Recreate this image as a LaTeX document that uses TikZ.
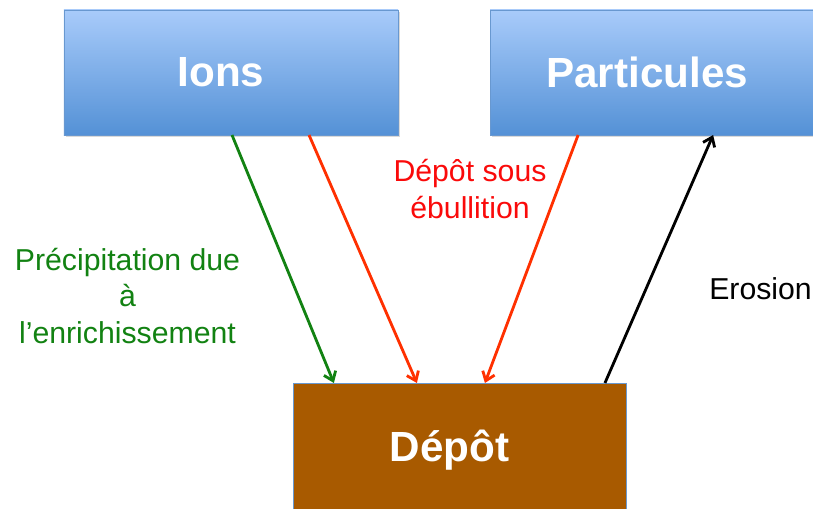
\documentclass[tikz,border=0pt]{standalone}
\usepackage{fontspec}
\setmainfont{Liberation Sans}
\usetikzlibrary{arrows.meta, positioning, shadows}

\definecolor{boxtop}{RGB}{168,203,250}
\definecolor{boxbot}{RGB}{84,145,214}
\definecolor{boxline}{RGB}{104,152,208}
\definecolor{depotfill}{RGB}{168,90,0}
\definecolor{precgreen}{RGB}{18,130,18}
\definecolor{ebulred}{RGB}{255,48,0}
\definecolor{ebultext}{RGB}{250,10,10}

% box titles sit a little left of centre
\newcommand{\boxtitle}[1]{\hspace*{-0.5cm}#1}

\begin{document}
\begin{tikzpicture}[
    x=0.025cm, y=-0.025cm,
    source/.style={rectangle, draw=boxline, thin, top color=boxtop, bottom color=boxbot, minimum width=8.35cm, minimum height=3.125cm, inner sep=0pt, outer sep=0pt, text=white, font=\fontsize{30}{36}\selectfont\bfseries, drop shadow={shadow xshift=1.2pt, shadow yshift=-1.2pt, opacity=0.3}},
    depot/.style={rectangle, draw=boxline, thin, fill=depotfill, minimum width=8.33cm, minimum height=3.35cm, inner sep=0pt, outer sep=0pt, text=white, font=\fontsize{30}{36}\selectfont\bfseries},
    legend/.style={align=center, inner sep=0pt, font=\fontsize{21.5}{26.3}\selectfont},
    arrow/.style={-{Straight Barb[length=6pt, width=9pt]}, line width=2pt}
]
\clip (0,0) rectangle (813,508);

% Boxes
\node[source] (ions) at (231,72.5) {\boxtitle{Ions}};
\node[source, right=2.3cm of ions] (part) {\boxtitle{Particules}};
\node[depot] (dep) at (459.5,450) {\boxtitle{Dépôt}};

% Labels
\node[legend, text=precgreen] (prec) at (127.5,296) {Précipitation due\\à\\l’enrichissement};
\node[legend, text=ebultext] (ebul) at (470,189) {Dépôt sous\\ébullition};
\node[legend, anchor=west] (eros) at (709,288.5) {Erosion};

% Arrows
\draw[arrow, precgreen] ([xshift=4.2cm]ions.south west) -- ([xshift=1.025cm]dep.north west);
\draw[arrow, ebulred] ([xshift=6.125cm]ions.south west) -- ([xshift=3.1cm]dep.north west);
\draw[arrow, ebulred] ([xshift=2.2cm]part.south west) -- ([xshift=4.8cm]dep.north west);
\draw[arrow, black] ([xshift=7.8cm]dep.north west) -- ([xshift=5.575cm]part.south west);

\end{tikzpicture}
\end{document}
